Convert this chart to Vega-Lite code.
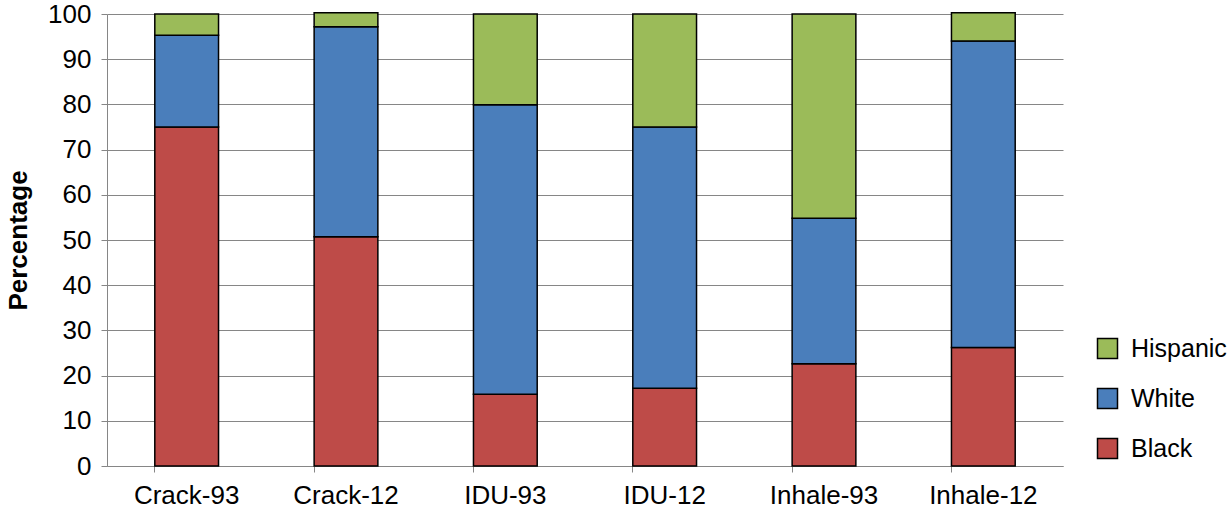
{
  "$schema": "https://vega.github.io/schema/vega-lite/v6.json",
  "width": 956,
  "height": 452,
  "autosize": {"type": "none"},
  "padding": {"left": 107, "top": 14, "right": 168, "bottom": 55},
  "background": "white",
  "config": {
    "font": "Liberation Sans",
    "view": {"stroke": null},
    "axis": {"labelFont": "Liberation Sans", "titleFont": "Liberation Sans", "labelColor": "black", "titleColor": "black"},
    "legend": {"labelFont": "Liberation Sans"}
  },
  "data": {
    "values": [
      {"category": "Crack-93", "group": "Black", "rank": 1, "pct": 75.0},
      {"category": "Crack-93", "group": "White", "rank": 2, "pct": 20.3},
      {"category": "Crack-93", "group": "Hispanic", "rank": 3, "pct": 4.7},
      {"category": "Crack-12", "group": "Black", "rank": 1, "pct": 50.7},
      {"category": "Crack-12", "group": "White", "rank": 2, "pct": 46.5},
      {"category": "Crack-12", "group": "Hispanic", "rank": 3, "pct": 3.1},
      {"category": "IDU-93", "group": "Black", "rank": 1, "pct": 15.9},
      {"category": "IDU-93", "group": "White", "rank": 2, "pct": 64.0},
      {"category": "IDU-93", "group": "Hispanic", "rank": 3, "pct": 20.1},
      {"category": "IDU-12", "group": "Black", "rank": 1, "pct": 17.2},
      {"category": "IDU-12", "group": "White", "rank": 2, "pct": 57.8},
      {"category": "IDU-12", "group": "Hispanic", "rank": 3, "pct": 25.0},
      {"category": "Inhale-93", "group": "Black", "rank": 1, "pct": 22.6},
      {"category": "Inhale-93", "group": "White", "rank": 2, "pct": 32.2},
      {"category": "Inhale-93", "group": "Hispanic", "rank": 3, "pct": 45.2},
      {"category": "Inhale-12", "group": "Black", "rank": 1, "pct": 26.2},
      {"category": "Inhale-12", "group": "White", "rank": 2, "pct": 67.8},
      {"category": "Inhale-12", "group": "Hispanic", "rank": 3, "pct": 6.3}
    ]
  },
  "mark": {"type": "bar", "stroke": "black", "strokeWidth": 1.5},
  "encoding": {
    "x": {
      "field": "category",
      "type": "nominal",
      "sort": ["Crack-93", "Crack-12", "IDU-93", "IDU-12", "Inhale-93", "Inhale-12"],
      "scale": {"paddingInner": 0.6, "paddingOuter": 0.3},
      "axis": {
        "title": null,
        "labelAngle": 0,
        "labelFontSize": 26,
        "labelPadding": 10,
        "domainColor": "#868686",
        "domainWidth": 1,
        "tickColor": "#868686",
        "tickSize": 6,
        "bandPosition": 0,
        "grid": false
      }
    },
    "y": {
      "field": "pct",
      "type": "quantitative",
      "stack": "zero",
      "scale": {"domain": [0, 100], "nice": false},
      "axis": {
        "title": "Percentage",
        "titleFontSize": 26,
        "titleFontWeight": "bold",
        "titlePadding": 16,
        "values": [0, 10, 20, 30, 40, 50, 60, 70, 80, 90, 100],
        "labelFontSize": 26,
        "labelPadding": 10,
        "domainColor": "#868686",
        "tickColor": "#868686",
        "tickSize": 6,
        "grid": true,
        "gridColor": "#868686",
        "gridWidth": 1
      }
    },
    "order": {"field": "rank", "type": "quantitative", "sort": "ascending"},
    "color": {
      "field": "group",
      "type": "nominal",
      "scale": {
        "domain": ["Hispanic", "White", "Black"],
        "range": ["#9BBB59", "#4A7EBB", "#BE4B48"]
      },
      "legend": {
        "title": null,
        "orient": "none",
        "legendX": 988,
        "legendY": 322,
        "symbolType": "square",
        "symbolSize": 400,
        "symbolStrokeColor": "black",
        "symbolStrokeWidth": 1.5,
        "symbolOpacity": 1,
        "labelFontSize": 25,
        "labelColor": "black",
        "labelOffset": 11,
        "rowPadding": 23,
        "padding": 0
      }
    }
  }
}
